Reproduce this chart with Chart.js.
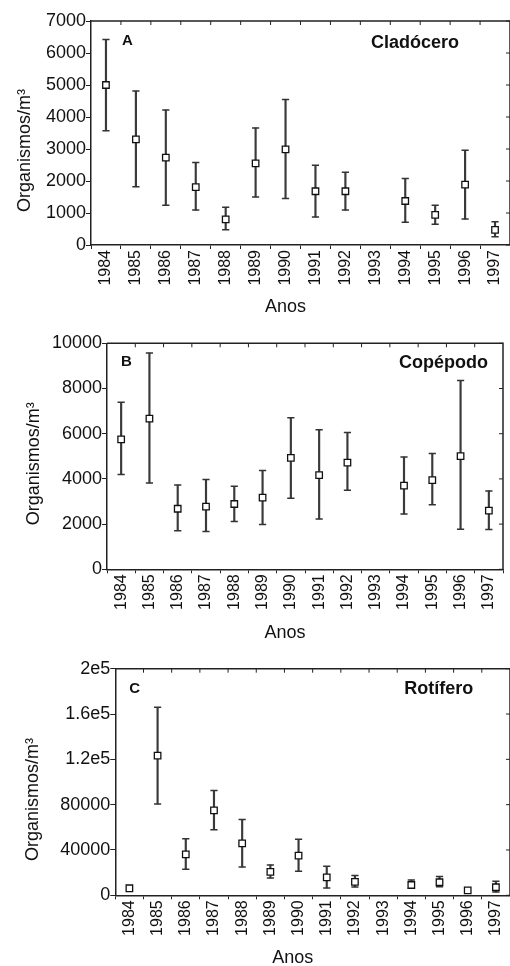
<!DOCTYPE html>
<html>
<head>
<meta charset="utf-8">
<script src="https://cdn.jsdelivr.net/npm/chart.js@4"></script>
<style>
  html, body { margin: 0; padding: 0; background: #fff; }
  body { width: 510px; height: 966px; position: relative; overflow: hidden; }
  canvas { position: absolute; left: 0; }
</style>
</head>
<body>
<canvas id="chartA" width="510" height="320" style="top:0px"></canvas>
<canvas id="chartB" width="510" height="322" style="top:320px"></canvas>
<canvas id="chartC" width="510" height="324" style="top:642px"></canvas>
<script>
  // categories
  const years = ['1984', '1985', '1986', '1987', '1988', '1989', '1990',
                 '1991', '1992', '1993', '1994', '1995', '1996', '1997'];

  // A - Cladocero (mean, upper and lower error limits)
  const cladMean = [5000, 3300, 2730, 1810, 800, 2550, 2990, 1680, 1680, null, 1375, 940, 1885, 470];
  const cladHigh = [6420, 4810, 4220, 2580, 1180, 3660, 4550, 2490, 2270, null, 2080, 1240, 2960, 730];
  const cladLow  = [3570, 1820, 1240, 1090, 480, 1500, 1450, 875, 1090, null, 710, 650, 810, 260];

  // B - Copepodo
  const copMean = [5750, 6670, 2680, 2770, 2890, 3170, 4930, 4170, 4720, null, 3700, 3950, 5010, 2600];
  const copHigh = [7390, 9570, 3730, 3970, 3670, 4370, 6710, 6180, 6050, null, 4970, 5120, 8350, 3470];
  const copLow  = [4200, 3820, 1710, 1670, 2110, 1980, 3140, 2230, 3500, null, 2450, 2860, 1770, 1760];

  // C - Rotifero
  const rotMean = [6200, 123200, 36200, 75000, 45900, 20600, 35000, 15900, 11800, null, 9100, 11500, 4400, 7100];
  const rotHigh = [null, 165900, 50000, 92400, 66800, 26800, 49400, 25600, 17400, null, 13500, 16500, null, 12400];
  const rotLow  = [null, 80600, 22900, 57900, 25000, 15300, 21200, 6500, 7400, null, 6200, 7600, null, 2900];

  // y tick labels
  const cladTicks = ['0', '1000', '2000', '3000', '4000', '5000', '6000', '7000'];
  const copTicks = ['0', '2000', '4000', '6000', '8000', '10000'];
  const rotTicks = ['0', '40000', '80000', '1.2e5', '1.6e5', '2e5'];

  const FONT = "'Liberation Sans', Arial, sans-serif";
  const INK = '#222';
  const nb = n => '\u00a0'.repeat(n);

  // draws the frame (top/right with inward ticks) and the panel labels
  const framePlugin = {
    id: 'frame',
    afterDraw(chart, args, opts) {
      const { ctx, chartArea: a } = chart;
      const xs = chart.scales.x, ys = chart.scales.y;
      ctx.save();
      ctx.strokeStyle = INK;
      ctx.lineWidth = 1.5;
      ctx.beginPath();
      ctx.moveTo(a.left, a.top);
      ctx.lineTo(a.right, a.top);
      ctx.lineTo(a.right, a.bottom);
      ctx.stroke();

      ctx.lineWidth = 1;
      ctx.beginPath();
      const n = xs.ticks.length;
      for (let i = 1; i < n; i++) {
        const px = (xs.getPixelForValue(i - 1) + xs.getPixelForValue(i)) / 2;
        ctx.moveTo(px, a.top);
        ctx.lineTo(px, a.top + 4);
      }
      ys.ticks.forEach(t => {
        const py = ys.getPixelForValue(t.value);
        ctx.moveTo(a.right - 4, py);
        ctx.lineTo(a.right, py);
      });
      ctx.stroke();

      ctx.fillStyle = '#111';
      ctx.textBaseline = 'middle';
      ctx.textAlign = 'left';
      ctx.font = 'bold 15px ' + FONT;
      ctx.fillText(opts.letter, a.left + opts.letterAt[0], a.top + opts.letterAt[1]);
      ctx.font = 'bold 18px ' + FONT;
      ctx.fillText(opts.name, a.left + opts.nameAt[0], a.top + opts.nameAt[1]);
      ctx.restore();
    }
  };

  const panels = [
    { id: 'chartA', letter: 'A', name: 'Cladócero', mean: cladMean, high: cladHigh, low: cladLow,
      yMax: 7000, yStep: 1000, yLabels: cladTicks, ySpaces: 7, xSpaces: 6,
      top: 21, left: 91, right: -1, xHeight: 75, yTitlePad: 16, xTitlePad: 4,
      letterAt: [31, 20], nameAt: [280, 22] },
    { id: 'chartB', letter: 'B', name: 'Copépodo', mean: copMean, high: copHigh, low: copLow,
      yMax: 10000, yStep: 2000, yLabels: copTicks, ySpaces: 3, xSpaces: 8,
      top: 23.3, left: 107, right: 7, xHeight: 72.7, yTitlePad: 25, xTitlePad: 0,
      letterAt: [14, 19], nameAt: [292, 19.4] },
    { id: 'chartC', letter: 'C', name: 'Rotífero', mean: rotMean, high: rotHigh, low: rotLow,
      yMax: 200000, yStep: 40000, yLabels: rotTicks, ySpaces: 7, xSpaces: 8,
      top: 26.7, left: 115.3, right: -2, xHeight: 70.7, yTitlePad: 24, xTitlePad: -1,
      letterAt: [14, 20.3], nameAt: [289, 20.3] }
  ];

  panels.forEach(p => {
    const bars = years.map((y, i) => (p.low[i] == null ? null : [p.low[i], p.high[i]]));

    new Chart(document.getElementById(p.id), {
      type: 'bar',
      data: {
        labels: years,
        datasets: [
          {
            // square markers for the mean
            type: 'line',
            data: p.mean,
            showLine: false,
            pointStyle: 'rect',
            pointRadius: 4.6,
            pointBackgroundColor: '#fff',
            pointBorderColor: '#111',
            pointBorderWidth: 1.3,
            order: 0
          },
          {
            type: 'line',
            data: p.high,
            showLine: false,
            pointStyle: 'line',
            pointRadius: 3.6,
            pointBorderColor: '#333',
            pointBorderWidth: 1.5,
            order: 1
          },
          {
            type: 'line',
            data: p.low,
            showLine: false,
            pointStyle: 'line',
            pointRadius: 3.6,
            pointBorderColor: '#333',
            pointBorderWidth: 1.5,
            order: 1
          },
          {
            // vertical error bar
            data: bars,
            backgroundColor: '#3a3a3a',
            borderWidth: 0,
            barThickness: 1.5,
            order: 2
          }
        ]
      },
      options: {
        responsive: false,
        animation: false,
        events: [],
        devicePixelRatio: 1,
        layout: { autoPadding: false, padding: { top: p.top, left: 0, right: p.right, bottom: 0 } },
        plugins: {
          legend: { display: false },
          tooltip: { enabled: false },
          frame: { letter: p.letter, name: p.name, letterAt: p.letterAt, nameAt: p.nameAt }
        },
        scales: {
          x: {
            offset: true,
            grid: { offset: true, drawOnChartArea: false, tickLength: 4, color: INK, lineWidth: 1 },
            border: { color: INK, width: 1.5 },
            ticks: {
              autoSkip: false, maxRotation: 90, minRotation: 90, padding: 1,
              color: '#111', font: { family: FONT, size: 16 }
            },
            title: {
              display: true,
              text: 'Anos' + nb(p.xSpaces),
              color: '#111',
              font: { family: FONT, size: 18, lineHeight: 1 },
              padding: { top: 0, bottom: p.xTitlePad }
            },
            afterFit: s => { s.height = p.xHeight; s.paddingLeft = 0; s.paddingRight = 0; }
          },
          y: {
            min: 0,
            max: p.yMax,
            grid: { drawOnChartArea: false, tickLength: 5, color: INK, lineWidth: 1 },
            border: { color: INK, width: 1.5 },
            ticks: {
              stepSize: p.yStep, padding: 0,
              color: '#111', font: { family: FONT, size: 18 },
              callback: (v, i) => p.yLabels[i]
            },
            title: {
              display: true,
              text: 'Organismos/m³' + nb(p.ySpaces),
              color: '#111',
              font: { family: FONT, size: 18, lineHeight: 1 },
              padding: { top: p.yTitlePad, bottom: 0 }
            },
            afterFit: s => { s.width = p.left; s.paddingTop = 0; s.paddingBottom = 0; }
          }
        }
      },
      plugins: [framePlugin]
    });
  });
</script>
</body>
</html>
